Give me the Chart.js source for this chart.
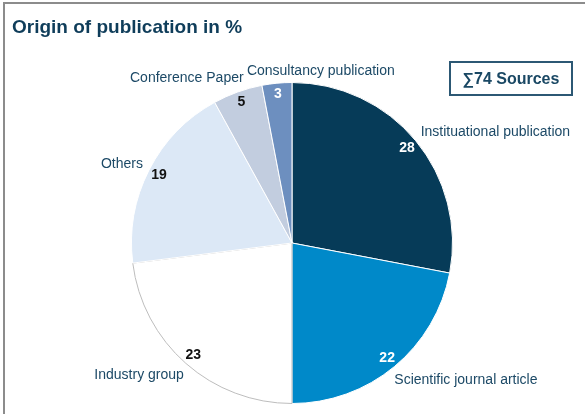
<!DOCTYPE html>
<html>
<head>
<meta charset="utf-8">
<script src="https://cdn.jsdelivr.net/npm/chart.js@4.4.1/dist/chart.umd.min.js"></script>
<style>
  html, body { margin: 0; padding: 0; background: #fff; overflow: hidden; }
  #wrap { position: relative; width: 585px; height: 414px; overflow: hidden; font-family: "Liberation Sans", Arial, sans-serif; }
  .rule { position: absolute; background: #8c8c8c; }
  #ruleTop { left: 3px; top: 2px; width: 582px; height: 2px; }
  #ruleLeft { left: 3px; top: 2px; width: 2px; height: 412px; }
  #title { position: absolute; left: 12px; top: 16px; font-size: 19px; font-weight: bold; color: #0f3d5a; }
  #total { position: absolute; left: 449px; top: 61px; width: 120px; height: 31px; border: 2px solid #2c5874; color: #1a4864;
           font-size: 16px; font-weight: bold; line-height: 31px; text-align: center; box-sizing: content-box; }
  canvas { position: absolute; left: 0; top: 0; }
</style>
</head>
<body>
<div id="wrap">
  <div class="rule" id="ruleTop"></div>
  <div class="rule" id="ruleLeft"></div>
  <canvas id="myChart" width="585" height="414"></canvas>
  <div id="title">Origin of publication in %</div>
  <div id="total">∑74 Sources</div>
</div>
<script>
const categories = ['Instituational publication', 'Scientific journal article', 'Industry group', 'Others', 'Conference Paper', 'Consultancy publication'];
const shares = [28, 22, 23, 19, 5, 3];
const sliceColors = ['#063b58', '#0089c9', '#ffffff', '#dce8f6', '#c2cddf', '#6d8fbf'];
const valueColors = ['#ffffff', '#ffffff', '#111111', '#111111', '#111111', '#ffffff'];

// where the outer label sits relative to the edge of its slice
const labelPlace = [
  { align: 'left', dx: 5, dy: -9 },
  { align: 'left', dx: 0, dy: 13 },
  { align: 'right', dx: -2, dy: 12 },
  { align: 'right', dx: -6, dy: -6 },
  { align: 'right', dx: 6, dy: -14 },
  { align: 'left', dx: -30, dy: -12 }
];

const labelPlugin = {
  id: 'pieLabels',
  afterDatasetsDraw(chart) {
    const ctx = chart.ctx;
    const arcs = chart.getDatasetMeta(0).data;
    ctx.save();
    ctx.textBaseline = 'middle';
    arcs.forEach((arc, i) => {
      const p = arc.getProps(['x', 'y', 'startAngle', 'endAngle', 'outerRadius'], true);
      const mid = (p.startAngle + p.endAngle) / 2;
      const r = p.outerRadius;
      // value inside the slice, near its rim
      ctx.font = 'bold 14px "Liberation Sans", Arial, sans-serif';
      ctx.textAlign = 'center';
      ctx.fillStyle = valueColors[i];
      ctx.fillText(String(shares[i]), p.x + Math.cos(mid) * r * 0.93, p.y + Math.sin(mid) * r * 0.93);
      // category name outside
      const ex = p.x + Math.cos(mid) * r;
      const ey = p.y + Math.sin(mid) * r;
      ctx.font = '14px "Liberation Sans", Arial, sans-serif';
      ctx.textAlign = labelPlace[i].align;
      ctx.fillStyle = '#1c4966';
      ctx.fillText(categories[i], ex + labelPlace[i].dx, ey + labelPlace[i].dy);
    });
    ctx.restore();
  }
};

const chartTarget = document.querySelector('#myChart');
new Chart(chartTarget, {
  type: 'pie',
  data: {
    labels: categories,
    datasets: [{
      data: shares,
      backgroundColor: sliceColors,
      borderColor: ['#ffffff', '#ffffff', '#bdbdbd', '#ffffff', '#ffffff', '#ffffff'],
      borderWidth: 1
    }]
  },
  options: {
    responsive: false,
    animation: false,
    layout: { padding: { top: 82, bottom: 10, left: 0, right: 1 } },
    plugins: {
      legend: { display: false },
      tooltip: { enabled: false }
    }
  },
  plugins: [labelPlugin]
});
</script>
</body>
</html>
